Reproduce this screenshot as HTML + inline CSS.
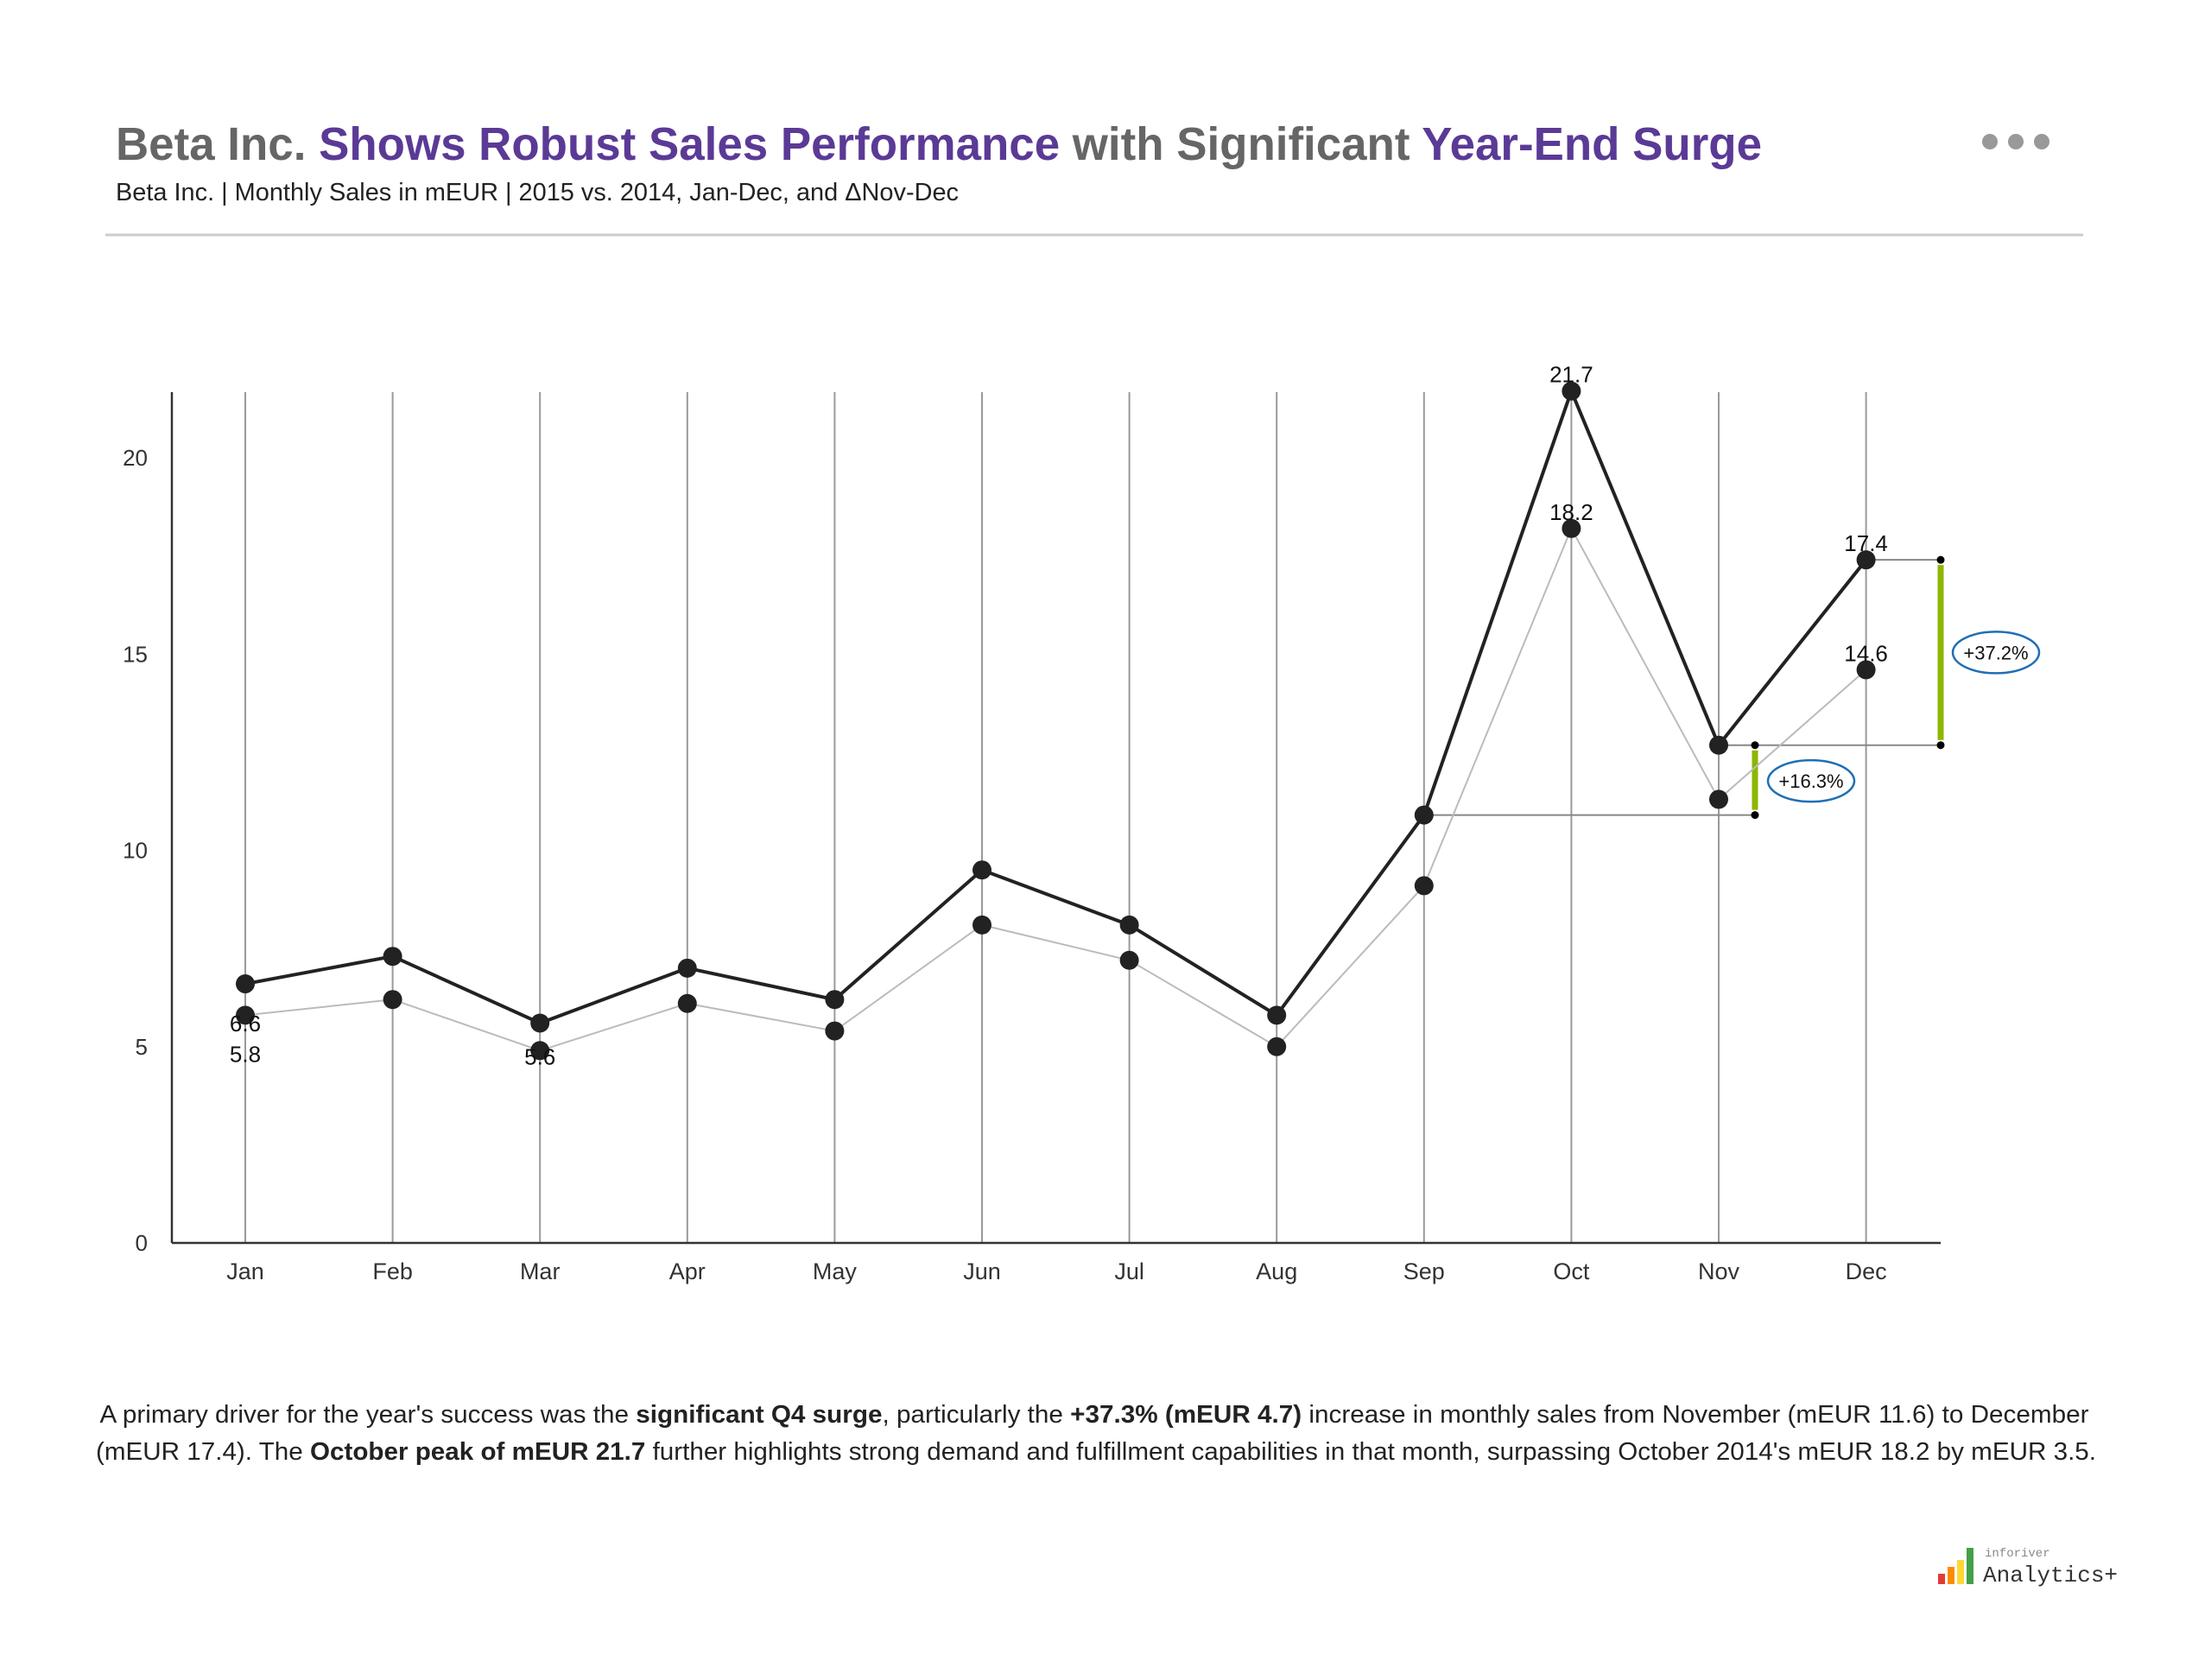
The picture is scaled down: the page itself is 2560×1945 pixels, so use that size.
<!DOCTYPE html>
<html><head><meta charset="utf-8"><style>
html,body{margin:0;padding:0;background:#fff;}
svg{display:block;font-family:"Liberation Sans",sans-serif;}
</style></head><body>
<svg id="chart" width="2560" height="1945" viewBox="0 0 2560 1945" xmlns="http://www.w3.org/2000/svg">
<text x="134" y="185" font-size="54" font-weight="bold" fill="#666" textLength="1906" lengthAdjust="spacingAndGlyphs">Beta Inc. <tspan fill="#5B3A96">Shows Robust Sales Performance</tspan> with Significant <tspan fill="#5B3A96">Year-End Surge</tspan></text>
<text x="134" y="232" font-size="29" fill="#222" textLength="976" lengthAdjust="spacingAndGlyphs">Beta Inc. | Monthly Sales in mEUR | 2015 vs. 2014, Jan-Dec, and ΔNov-Dec</text>
<g fill="#999"><circle cx="2304" cy="164" r="9"/><circle cx="2334" cy="164" r="9"/><circle cx="2364" cy="164" r="9"/></g>
<line x1="122" y1="272" x2="2412" y2="272" stroke="#ccc" stroke-width="3"/>
<g id="plot"></g>
<text x="1267" y="1647" font-size="29" fill="#222" text-anchor="middle" textLength="2303" lengthAdjust="spacingAndGlyphs">A primary driver for the year's success was the <tspan font-weight="bold">significant Q4 surge</tspan>, particularly the <tspan font-weight="bold">+37.3% (mEUR 4.7)</tspan> increase in monthly sales from November (mEUR 11.6) to December</text>
<text x="1269" y="1690" font-size="29" fill="#222" text-anchor="middle" textLength="2316" lengthAdjust="spacingAndGlyphs">(mEUR 17.4). The <tspan font-weight="bold">October peak of mEUR 21.7</tspan> further highlights strong demand and fulfillment capabilities in that month, surpassing October 2014's mEUR 18.2 by mEUR 3.5.</text>
<g>
<rect x="2244" y="1822" width="8" height="12" fill="#e53935"/><rect x="2255" y="1814" width="8" height="20" fill="#fb8c00"/><rect x="2266" y="1806" width="8" height="28" fill="#fdd835"/><rect x="2277" y="1792" width="8" height="42" fill="#43a047"/>
<text x="2298" y="1802" font-size="14" fill="#888" font-family="Liberation Mono,monospace">inforiver</text>
<text x="2296" y="1831" font-size="26" fill="#333" font-family="Liberation Mono,monospace">Analytics+</text>
</g>
</svg>
<script>
const months=["Jan","Feb","Mar","Apr","May","Jun","Jul","Aug","Sep","Oct","Nov","Dec"];
const sales2015=[6.6,7.3,5.6,7.0,6.2,9.5,8.1,5.8,10.9,21.7,12.68,17.4];
const sales2014=[5.8,6.2,4.9,6.1,5.4,8.1,7.2,5.0,9.1,18.2,11.3,14.6];
const yTicks=[0,5,10,15,20];
const NS="http://www.w3.org/2000/svg";
const g=document.getElementById("plot");
const X0=284,DX=170.6,Y0=1439,K=45.45;
const x=i=>X0+i*DX, y=v=>Y0-v*K;
function el(t,a,txt){const e=document.createElementNS(NS,t);for(const k in a)e.setAttribute(k,a[k]);if(txt!=null)e.textContent=txt;g.appendChild(e);return e;}
months.forEach((m,i)=>{
 const l=el("line",{x1:x(i),y1:454,x2:x(i),y2:Y0,stroke:"#999","stroke-width":2});
 
 
 const t=el("text",{x:x(i),y:1481,"font-size":27,fill:"#333","text-anchor":"middle"},m);
 
 
});
yTicks.forEach(v=>{
 const t=el("text",{x:171,y:y(v)+9,"font-size":26,fill:"#333","text-anchor":"end"},String(v));
 
 
});
const ax=el("line",{x1:199,y1:454,x2:199,y2:Y0,stroke:"#333","stroke-width":2.5});


const bx=el("line",{x1:199,y1:Y0,x2:2247,y2:Y0,stroke:"#333","stroke-width":2.5});


const sepY=y(sales2015[8]),novY=y(sales2015[10]),decY=y(sales2015[11]);
const B1=2032,B2=2247;
const a1=el("path",{d:`M${x(8)} ${sepY}H${B1}M${x(10)} ${novY}H${B2}M${x(11)} ${decY}H${B2}`,stroke:"#888","stroke-width":2,fill:"none"});


const gb1=el("line",{x1:B1,y1:novY+6,x2:B1,y2:sepY-6,stroke:"#8DB600","stroke-width":7});


const gb2=el("line",{x1:B2,y1:decY+6,x2:B2,y2:novY-6,stroke:"#8DB600","stroke-width":7});


[[B1,sepY],[B1,novY],[B2,novY],[B2,decY]].forEach(p=>{el("circle",{cx:p[0],cy:p[1],r:4.5,fill:"#000"});});
const p1=100*(sales2015[10]/sales2015[8]-1),p2=100*(sales2015[11]/sales2015[10]-1);
const e1=el("ellipse",{cx:2097,cy:(sepY+novY)/2+1,rx:50,ry:24,fill:"#fff",stroke:"#1F6FB5","stroke-width":2.5});


el("text",{x:2097,y:(sepY+novY)/2+9,"font-size":22,"text-anchor":"middle",fill:"#111"},"+"+p1.toFixed(1)+"%");
const e2=el("ellipse",{cx:2311,cy:(novY+decY)/2,rx:50,ry:24,fill:"#fff",stroke:"#1F6FB5","stroke-width":2.5});


el("text",{x:2311,y:(novY+decY)/2+8,"font-size":22,"text-anchor":"middle",fill:"#111"},"+"+p2.toFixed(1)+"%");
const l14=el("polyline",{points:sales2014.map((v,i)=>x(i)+","+y(v)).join(" "),fill:"none",stroke:"#bbb","stroke-width":2});


const l15=el("polyline",{points:sales2015.map((v,i)=>x(i)+","+y(v)).join(" "),fill:"none",stroke:"#222","stroke-width":4});


sales2014.forEach((v,i)=>{const c=el("circle",{cx:x(i),cy:y(v),r:11,fill:"#222"});
 
 });
sales2015.forEach((v,i)=>{const c=el("circle",{cx:x(i),cy:y(v),r:11,fill:"#222"});
 
 });
function lab(i,v,dy,name){const t=el("text",{x:x(i),y:y(v)+dy,"font-size":26,"text-anchor":"middle",fill:"#111"},v.toFixed(1));
 
 }
lab(0,sales2015[0],55,'label-2015-jan');
lab(0,sales2014[0],54,'label-2014-jan');
lab(2,sales2015[2],48,'label-2015-mar');
lab(9,sales2015[9],-10,'label-2015-oct');
lab(9,sales2014[9],-10,'label-2014-oct');
lab(11,sales2015[11],-10,'label-2015-dec');
lab(11,sales2014[11],-10,'label-2014-dec');
</script>
</body></html>
